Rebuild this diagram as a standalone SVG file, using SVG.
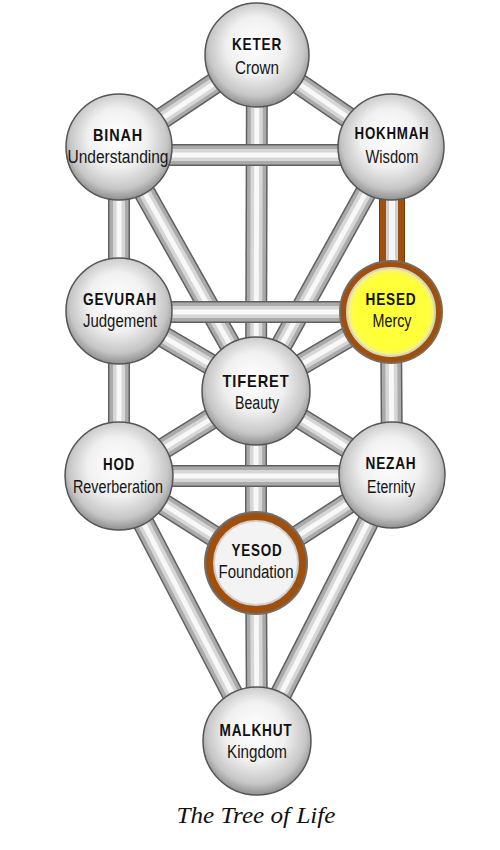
<svg xmlns="http://www.w3.org/2000/svg" xmlns:xlink="http://www.w3.org/1999/xlink" width="500" height="850" viewBox="0 0 500 850">
<style>
.a{fill:none;stroke:#606060;stroke-width:22}
.b{fill:none;stroke:#aaaaaa;stroke-width:19}
.c{fill:none;stroke:#d6d6d6;stroke-width:12}
.d{fill:none;stroke:#f8f8f8;stroke-width:5}
.ba{fill:none;stroke:#6a3a10;stroke-width:26}
.bb{fill:none;stroke:#a0500c;stroke-width:24}
.bc{fill:none;stroke:#cfcfcf;stroke-width:12}
.bd{fill:none;stroke:#f6f6f6;stroke-width:6}
.sphere{fill:url(#sph);stroke:#555;stroke-width:1.5}
.name{font-family:"Liberation Sans",Arial,sans-serif;font-weight:bold;font-size:17px;fill:#111;text-anchor:middle;letter-spacing:1px}
.sub{font-family:"Liberation Sans",Arial,sans-serif;font-size:18px;fill:#151515;text-anchor:middle}
.caption{font-family:"Liberation Serif","Times New Roman",serif;font-style:italic;font-size:24px;fill:#111;text-anchor:middle}
</style>
<defs>
<radialGradient id="sph" cx="0.5" cy="0.45" r="0.56" fx="0.47" fy="0.38">
<stop offset="0" stop-color="#ffffff"/>
<stop offset="0.5" stop-color="#f0f0f0"/>
<stop offset="0.82" stop-color="#c6c6c6"/>
<stop offset="1" stop-color="#8a8a8a"/>
</radialGradient>
<radialGradient id="yel" cx="0.5" cy="0.5" r="0.5">
<stop offset="0" stop-color="#ffff3a"/>
<stop offset="0.86" stop-color="#ffff3a"/>
<stop offset="1" stop-color="#eeee99"/>
</radialGradient>
<line id="p1" x1="257" y1="55" x2="256" y2="391"/>
<line id="p2" x1="256" y1="391" x2="256" y2="563"/>
<line id="p3" x1="256" y1="563" x2="257" y2="741"/>
<line id="p4" x1="119" y1="147" x2="119" y2="311"/>
<line id="p5" x1="119" y1="311" x2="119" y2="476"/>
<line id="p6" x1="392" y1="147" x2="392" y2="312"/>
<line id="p7" x1="391" y1="312" x2="392" y2="475"/>
<line id="p8" x1="257" y1="55" x2="119" y2="147"/>
<line id="p9" x1="257" y1="55" x2="391" y2="147"/>
<line id="p10" x1="119" y1="147" x2="256" y2="391"/>
<line id="p11" x1="391" y1="147" x2="256" y2="391"/>
<line id="p12" x1="119" y1="311" x2="256" y2="391"/>
<line id="p13" x1="391" y1="312" x2="256" y2="391"/>
<line id="p14" x1="256" y1="391" x2="119" y2="476"/>
<line id="p15" x1="256" y1="391" x2="392" y2="475"/>
<line id="p16" x1="119" y1="476" x2="256" y2="563"/>
<line id="p17" x1="392" y1="475" x2="256" y2="563"/>
<line id="p18" x1="119" y1="476" x2="257" y2="741"/>
<line id="p19" x1="392" y1="475" x2="257" y2="741"/>
<line id="p20" x1="119" y1="155" x2="391" y2="155"/>
<line id="p21" x1="119" y1="312" x2="391" y2="312"/>
<line id="p22" x1="119" y1="476" x2="392" y2="476"/>
</defs>
<rect width="500" height="850" fill="#ffffff"/>
<g id="connectors">
<g><use href="#p1" class="a"/><use href="#p1" class="b"/><use href="#p1" class="c"/><use href="#p1" class="d"/></g>
<g><use href="#p2" class="a"/><use href="#p2" class="b"/><use href="#p2" class="c"/><use href="#p2" class="d"/></g>
<g><use href="#p3" class="a"/><use href="#p3" class="b"/><use href="#p3" class="c"/><use href="#p3" class="d"/></g>
<g><use href="#p4" class="a"/><use href="#p4" class="b"/><use href="#p4" class="c"/><use href="#p4" class="d"/></g>
<g><use href="#p5" class="a"/><use href="#p5" class="b"/><use href="#p5" class="c"/><use href="#p5" class="d"/></g>
<g><use href="#p6" class="ba"/><use href="#p6" class="bb"/><use href="#p6" class="bc"/><use href="#p6" class="bd"/></g>
<g><use href="#p7" class="a"/><use href="#p7" class="b"/><use href="#p7" class="c"/><use href="#p7" class="d"/></g>
<g><use href="#p8" class="a"/><use href="#p8" class="b"/><use href="#p8" class="c"/><use href="#p8" class="d"/></g>
<g><use href="#p9" class="a"/><use href="#p9" class="b"/><use href="#p9" class="c"/><use href="#p9" class="d"/></g>
<g><use href="#p10" class="a"/><use href="#p10" class="b"/><use href="#p10" class="c"/><use href="#p10" class="d"/></g>
<g><use href="#p11" class="a"/><use href="#p11" class="b"/><use href="#p11" class="c"/><use href="#p11" class="d"/></g>
<g><use href="#p12" class="a"/><use href="#p12" class="b"/><use href="#p12" class="c"/><use href="#p12" class="d"/></g>
<g><use href="#p13" class="a"/><use href="#p13" class="b"/><use href="#p13" class="c"/><use href="#p13" class="d"/></g>
<g><use href="#p14" class="a"/><use href="#p14" class="b"/><use href="#p14" class="c"/><use href="#p14" class="d"/></g>
<g><use href="#p15" class="a"/><use href="#p15" class="b"/><use href="#p15" class="c"/><use href="#p15" class="d"/></g>
<g><use href="#p16" class="a"/><use href="#p16" class="b"/><use href="#p16" class="c"/><use href="#p16" class="d"/></g>
<g><use href="#p17" class="a"/><use href="#p17" class="b"/><use href="#p17" class="c"/><use href="#p17" class="d"/></g>
<g><use href="#p18" class="a"/><use href="#p18" class="b"/><use href="#p18" class="c"/><use href="#p18" class="d"/></g>
<g><use href="#p19" class="a"/><use href="#p19" class="b"/><use href="#p19" class="c"/><use href="#p19" class="d"/></g>
<g><use href="#p20" class="a"/><use href="#p20" class="b"/><use href="#p20" class="c"/><use href="#p20" class="d"/></g>
<g><use href="#p21" class="a"/><use href="#p21" class="b"/><use href="#p21" class="c"/><use href="#p21" class="d"/></g>
<g><use href="#p22" class="a"/><use href="#p22" class="b"/><use href="#p22" class="c"/><use href="#p22" class="d"/></g>
</g>
<g id="keter"><circle class="sphere" cx="257" cy="55" r="52"/><text class="name" x="257" y="50" textLength="50" lengthAdjust="spacingAndGlyphs">KETER</text><text class="sub" x="257" y="74" textLength="44" lengthAdjust="spacingAndGlyphs">Crown</text></g>
<g id="binah"><circle class="sphere" cx="119" cy="147" r="53"/><text class="name" x="118" y="141" textLength="50" lengthAdjust="spacingAndGlyphs">BINAH</text><text class="sub" x="118" y="163" textLength="101" lengthAdjust="spacingAndGlyphs">Understanding</text></g>
<g id="hokhmah"><circle class="sphere" cx="391" cy="147" r="53"/><text class="name" x="392" y="139" textLength="75" lengthAdjust="spacingAndGlyphs">HOKHMAH</text><text class="sub" x="392" y="163" textLength="53" lengthAdjust="spacingAndGlyphs">Wisdom</text></g>
<g id="gevurah"><circle class="sphere" cx="119" cy="311" r="53"/><text class="name" x="120" y="305" textLength="74" lengthAdjust="spacingAndGlyphs">GEVURAH</text><text class="sub" x="120" y="327" textLength="74" lengthAdjust="spacingAndGlyphs">Judgement</text></g>
<g id="hesed"><circle cx="391" cy="312" r="52" fill="#7a6a5a"/><circle cx="391" cy="312" r="50" fill="#a0500c"/><circle cx="391" cy="312" r="44" fill="url(#yel)" stroke="#d6d6c0" stroke-width="2"/><text class="name" x="391" y="305" textLength="51" lengthAdjust="spacingAndGlyphs">HESED</text><text class="sub" x="392" y="327" textLength="39" lengthAdjust="spacingAndGlyphs">Mercy</text></g>
<g id="tiferet"><circle class="sphere" cx="256" cy="391" r="54"/><text class="name" x="256" y="387" textLength="67" lengthAdjust="spacingAndGlyphs">TIFERET</text><text class="sub" x="257" y="409" textLength="44" lengthAdjust="spacingAndGlyphs">Beauty</text></g>
<g id="hod"><circle class="sphere" cx="119" cy="476" r="54"/><text class="name" x="119" y="470" textLength="32" lengthAdjust="spacingAndGlyphs">HOD</text><text class="sub" x="118" y="493" textLength="90" lengthAdjust="spacingAndGlyphs">Reverberation</text></g>
<g id="nezah"><circle class="sphere" cx="392" cy="475" r="53"/><text class="name" x="391" y="469" textLength="51" lengthAdjust="spacingAndGlyphs">NEZAH</text><text class="sub" x="391" y="493" textLength="48" lengthAdjust="spacingAndGlyphs">Eternity</text></g>
<g id="yesod"><circle cx="256" cy="563" r="52" fill="#6e6e6e"/><circle cx="256" cy="563" r="50" fill="#a0500c"/><circle cx="256" cy="563" r="42" fill="#f3f3f3" stroke="#cfcfcf" stroke-width="2"/><text class="name" x="257" y="556" textLength="51" lengthAdjust="spacingAndGlyphs">YESOD</text><text class="sub" x="256" y="578" textLength="75" lengthAdjust="spacingAndGlyphs">Foundation</text></g>
<g id="malkhut"><circle class="sphere" cx="257" cy="741" r="54"/><text class="name" x="256" y="736" textLength="73" lengthAdjust="spacingAndGlyphs">MALKHUT</text><text class="sub" x="257" y="758" textLength="60" lengthAdjust="spacingAndGlyphs">Kingdom</text></g>
<text class="caption" x="256" y="823" textLength="159" lengthAdjust="spacingAndGlyphs">The Tree of Life</text>
</svg>
